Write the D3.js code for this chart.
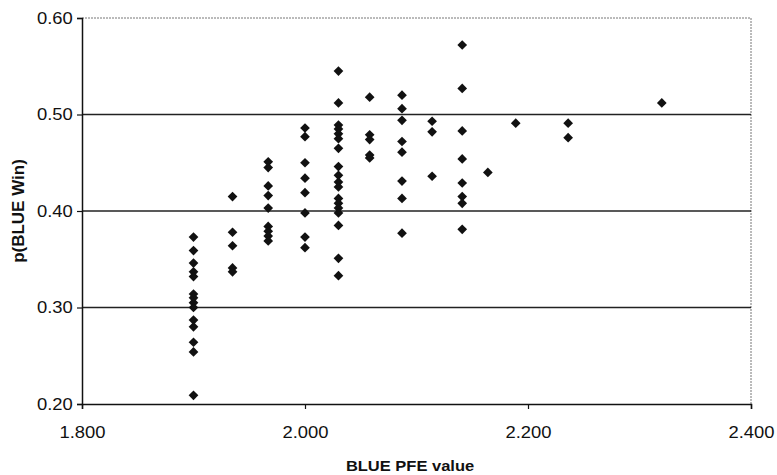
<!DOCTYPE html>
<html>
<head>
<meta charset="utf-8">
<script src="https://cdn.jsdelivr.net/npm/d3@7"></script>
<style>
  body { margin: 0; background: #fff; }
  svg text { font-family: Arial, "Liberation Sans", sans-serif; fill: #111; }
</style>
</head>
<body>
<div id="chart"></div>
<script>
const columns = [1.900, 1.935, 1.967, 2.000, 2.030, 2.058, 2.087, 2.114, 2.141, 2.164, 2.189, 2.236, 2.320];
const winProbs = [
  [0.373, 0.359, 0.346, 0.337, 0.332, 0.314, 0.310, 0.305, 0.300, 0.287, 0.280, 0.264, 0.254, 0.209],
  [0.415, 0.378, 0.364, 0.341, 0.337],
  [0.451, 0.445, 0.426, 0.416, 0.403, 0.384, 0.379, 0.374, 0.369],
  [0.486, 0.477, 0.450, 0.434, 0.419, 0.398, 0.373, 0.362],
  [0.545, 0.512, 0.489, 0.485, 0.480, 0.475, 0.465, 0.446, 0.437, 0.430, 0.425, 0.413, 0.408, 0.403, 0.398, 0.385, 0.351, 0.333],
  [0.518, 0.479, 0.474, 0.458, 0.455],
  [0.520, 0.506, 0.494, 0.472, 0.461, 0.431, 0.413, 0.377],
  [0.493, 0.482, 0.436],
  [0.572, 0.527, 0.483, 0.454, 0.429, 0.415, 0.408, 0.381],
  [0.440],
  [0.491],
  [0.491, 0.476],
  [0.512]
];
const xTicks = [1.8, 2.0, 2.2, 2.4];
const yTicks = [0.2, 0.3, 0.4, 0.5, 0.6];
const gridValues = [0.3, 0.4, 0.5];

const points = [];
columns.forEach((c, i) => winProbs[i].forEach((p) => points.push({ pfe: c, p: p })));

const width = 777;
const height = 475;
const margin = { top: 18, right: 26, bottom: 71, left: 82 };
const innerW = width - margin.left - margin.right;
const innerH = height - margin.top - margin.bottom;

const svg = d3.select('#chart').append('svg')
  .attr('width', width)
  .attr('height', height);

const g = svg.append('g')
  .attr('transform', `translate(${margin.left},${margin.top})`);

const x = d3.scaleLinear().domain([1.8, 2.4]).range([0, innerW]);
const y = d3.scaleLinear().domain([0.2, 0.6]).range([innerH, 0]);

// plot area border (top / right) in grey dots
g.append('line')
  .attr('x1', 0).attr('x2', innerW).attr('y1', y(0.6)).attr('y2', y(0.6))
  .style('stroke', '#777').style('stroke-width', 1).style('stroke-dasharray', '2,1');
g.append('line')
  .attr('x1', innerW).attr('x2', innerW).attr('y1', 0).attr('y2', innerH)
  .style('stroke', '#777').style('stroke-width', 1).style('stroke-dasharray', '2,1');

// horizontal grid lines
g.append('g')
  .attr('class', 'grid-lines')
  .selectAll('line')
  .data(gridValues)
  .enter()
  .append('line')
  .attr('x1', 0)
  .attr('x2', innerW)
  .attr('y1', (d) => y(d))
  .attr('y2', (d) => y(d))
  .style('stroke', '#222')
  .style('stroke-width', 1.3);

const xAxis = g.append('g')
  .attr('class', 'x-axis')
  .attr('transform', `translate(0,${innerH})`)
  .call(d3.axisBottom(x).tickValues(xTicks).tickFormat(d3.format('.3f')).tickSize(5).tickPadding(18));

const yAxis = g.append('g')
  .attr('class', 'y-axis')
  .call(d3.axisLeft(y).tickValues(yTicks).tickFormat(d3.format('.2f')).tickSize(5).tickPadding(3));

[xAxis, yAxis].forEach((a) => {
  a.select('.domain').style('stroke', '#111').style('stroke-width', 1.5);
  a.selectAll('.tick line').style('stroke', '#111').style('stroke-width', 1.2);
  // scanned labels look a bit wider than plain Arial
  a.selectAll('text')
    .style('font-size', '16px')
    .style('fill', '#111')
    .attr('transform', 'scale(1.15,1)');
});

// diamond markers
const diamond = d3.symbol().type(d3.symbolDiamond2 || d3.symbolDiamond).size(60);
g.append('g')
  .selectAll('path')
  .data(points)
  .enter()
  .append('path')
  .attr('d', diamond)
  .attr('transform', (d) => `translate(${x(d.pfe)},${y(d.p)})`)
  .style('fill', '#111');

// axis titles
svg.append('text')
  .attr('transform', 'translate(410,471) scale(1.1,1)')
  .attr('text-anchor', 'middle')
  .style('font-size', '15px')
  .style('font-weight', 'bold')
  .text('BLUE PFE value');

svg.append('text')
  .attr('transform', `translate(24,${margin.top + innerH / 2}) rotate(-90)`)
  .attr('text-anchor', 'middle')
  .style('font-size', '17px')
  .style('font-weight', 'bold')
  .text('p(BLUE Win)');
</script>
</body>
</html>
